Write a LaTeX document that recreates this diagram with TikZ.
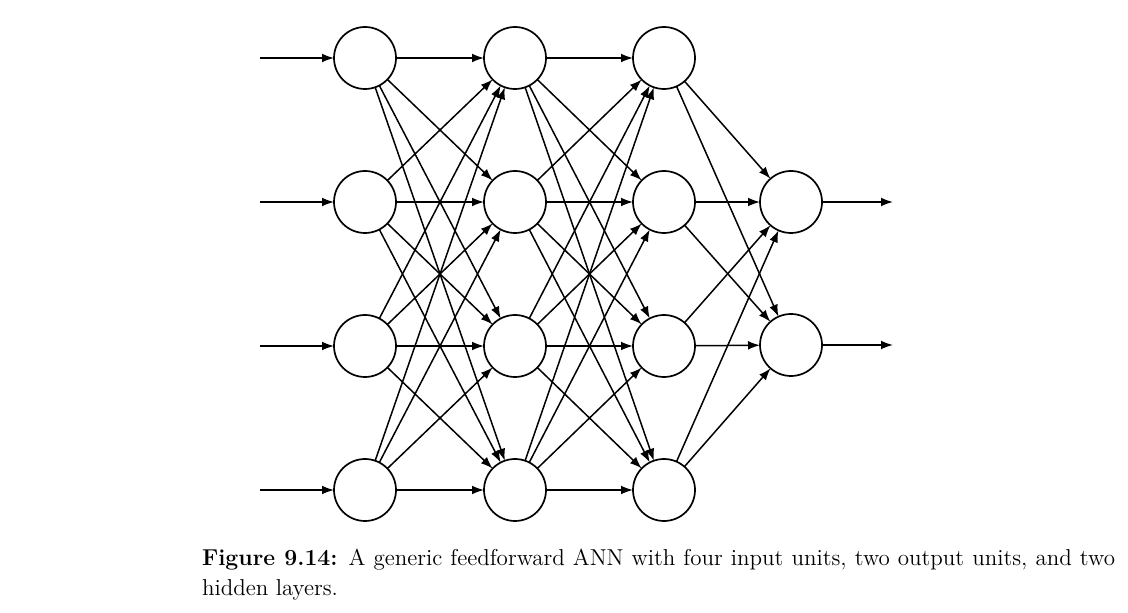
\documentclass[tikz,border=0pt]{standalone}
\usetikzlibrary{arrows.meta}

\begin{document}
\begin{tikzpicture}[x=0.5pt,y=-0.5pt,every node/.style={outer sep=0pt},
  unit/.style={draw,circle,line width=0.85pt,minimum size=31pt,inner sep=0pt},
  link/.style={line width=0.75pt,-{Latex[length=6pt,width=4.4pt]}}]
\useasboundingbox (0,0) rectangle (1128,613);

\node[unit] (i1) at (365,58) {};
\node[unit] (i2) at (365,202) {};
\node[unit] (i3) at (365,346) {};
\node[unit] (i4) at (365,490) {};
\node[unit] (a1) at (515,58) {};
\node[unit] (a2) at (515,202) {};
\node[unit] (a3) at (515,346) {};
\node[unit] (a4) at (515,490) {};
\node[unit] (b1) at (664,58) {};
\node[unit] (b2) at (664,202) {};
\node[unit] (b3) at (664,346) {};
\node[unit] (b4) at (664,490) {};
\node[unit] (o1) at (791,202) {};
\node[unit] (o2) at (791,345) {};

\foreach \k/\y in {1/58,2/202,3/346,4/490}
  \coordinate (in\k) at (260,\y);
\coordinate (out1) at (893,202);
\coordinate (out2) at (893,345);

\foreach \k in {1,...,4} {
  \draw[link] (in\k) -- (i\k);
  \foreach \m in {1,...,4} {
    \draw[link] (i\k) -- (a\m);
    \draw[link] (a\k) -- (b\m);
  }
  \draw[link] (b\k) -- (o1);
  \draw[link] (b\k) -- (o2);
}
\draw[link] (o1) -- (out1);
\draw[link] (o2) -- (out2);

\node[anchor=north west,text width=456.5pt,align=justify,inner sep=0pt,
  font=\fontsize{11.5}{15}\selectfont] (caption) at (202,549)
  {\textbf{Figure 9.14:} A generic feedforward ANN with four input units, two output units, and two\linebreak hidden layers.};
\end{tikzpicture}
\end{document}
